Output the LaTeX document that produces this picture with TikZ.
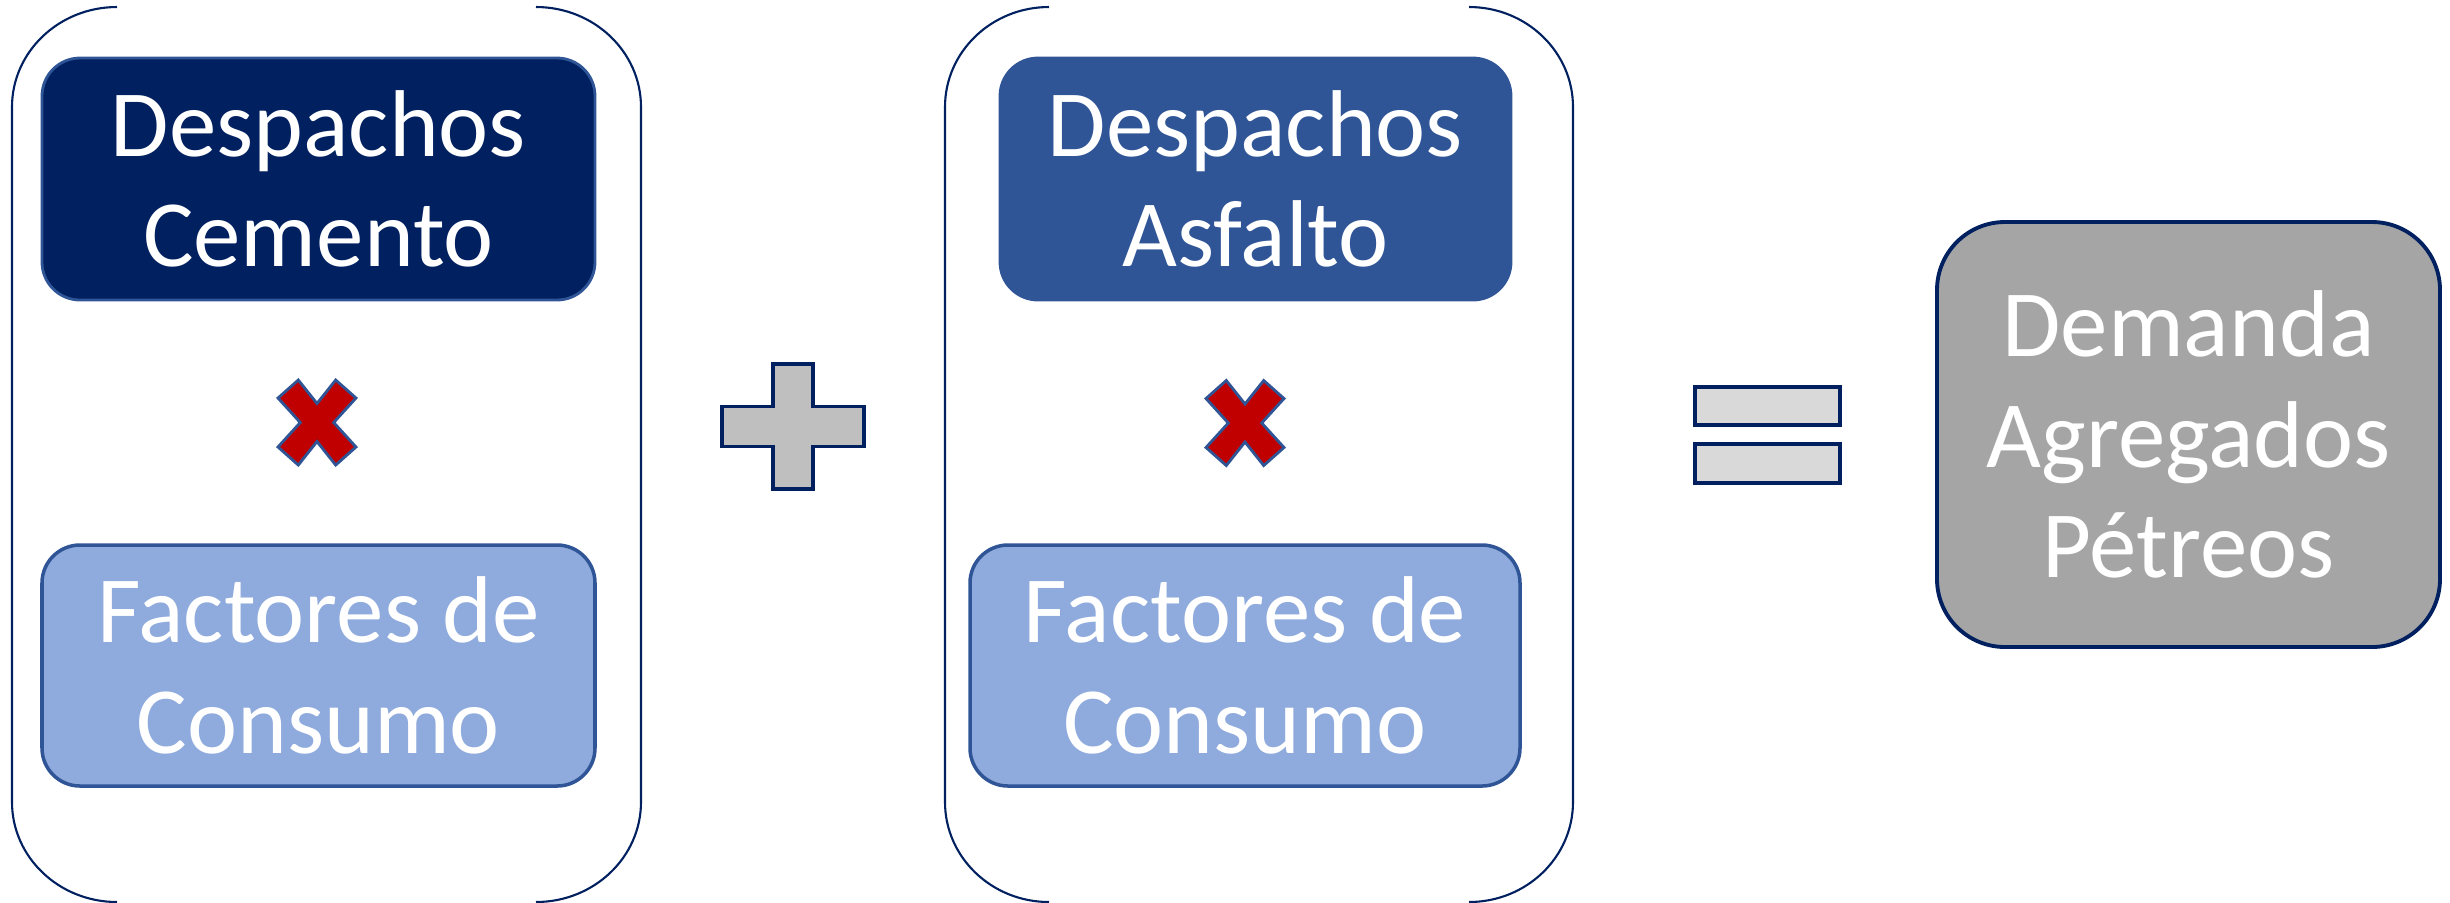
\documentclass[tikz,border=0pt]{standalone}
\usepackage{fontspec}
\setmainfont{Carlito}
\definecolor{navy}{HTML}{002060}
\definecolor{midblue}{HTML}{2F5597}
\definecolor{lightblue}{HTML}{8FAADC}
\definecolor{xred}{HTML}{C00000}
\definecolor{plusgray}{HTML}{BFBFBF}
\definecolor{eqgray}{HTML}{D9D9D9}
\definecolor{demgray}{HTML}{A5A5A5}
\tikzset{
  box/.style={rounded corners=0.38cm, draw=midblue, line width=0.8pt, text=white,
    align=center, inner sep=0pt, font=\fontsize{27}{31.5}\selectfont},
  bracket/.style={draw=navy, line width=0.6pt},
  timessign/.style={fill=xred, draw=midblue, line width=0.8pt, line join=miter},
  opsign/.style={draw=navy, line width=1pt, line join=miter},
}
\begin{document}
\begin{tikzpicture}
\useasboundingbox (0,0) rectangle (24.5,-9.02);

% container brackets
\draw[bracket] (1.17,-0.07) arc[start angle=90, end angle=180, x radius=1.05, y radius=1.0]
  -- (0.12,-8.02) arc[start angle=180, end angle=270, x radius=1.05, y radius=1.0];
\draw[bracket] (5.36,-0.07) arc[start angle=90, end angle=0, x radius=1.05, y radius=1.0]
  -- (6.41,-8.02) arc[start angle=0, end angle=-90, x radius=1.05, y radius=1.0];
\draw[bracket] (10.49,-0.07) arc[start angle=90, end angle=180, x radius=1.04, y radius=1.0]
  -- (9.45,-8.02) arc[start angle=180, end angle=270, x radius=1.04, y radius=1.0];
\draw[bracket] (14.69,-0.07) arc[start angle=90, end angle=0, x radius=1.04, y radius=1.0]
  -- (15.73,-8.02) arc[start angle=0, end angle=-90, x radius=1.04, y radius=1.0];

% boxes
\node[box, fill=navy, minimum width=5.53cm, minimum height=2.42cm] (cem) at (3.185,-1.79) {Despachos\\Cemento};
\node[box, fill=lightblue, line width=1pt, minimum width=5.53cm, minimum height=2.41cm] (fac1) at (3.185,-6.655) {Factores de\\Consumo};
\node[box, fill=midblue, minimum width=5.11cm, minimum height=2.42cm] (asf) at (12.555,-1.79) {Despachos\\Asfalto};
\node[box, fill=lightblue, line width=1pt, minimum width=5.50cm, minimum height=2.41cm] (fac2) at (12.45,-6.655) {Factores de\\Consumo};
\node[box, fill=demgray, draw=navy, line width=1.1pt, rounded corners=0.68cm, minimum width=5.03cm, minimum height=4.25cm] (dem) at (21.885,-4.345) {Demanda\\Agregados\\Pétreos};

% multiplication signs
\foreach \cx/\cy in {3.17/-4.225, 12.45/-4.23}{
  \draw[timessign, shift={(\cx,\cy)}]
    (-0.187,0.425) -- (0,0.19) -- (0.187,0.425) -- (0.39,0.245) -- (0.167,0)
    -- (0.39,-0.245) -- (0.187,-0.425) -- (0,-0.19) -- (-0.187,-0.425)
    -- (-0.39,-0.245) -- (-0.167,0) -- (-0.39,0.245) -- cycle;
}

% plus sign
\draw[opsign, fill=plusgray, shift={(7.93,-4.265)}]
  (-0.2,0.625) -- (0.2,0.625) -- (0.2,0.2) -- (0.71,0.2) -- (0.71,-0.2) -- (0.2,-0.2)
  -- (0.2,-0.625) -- (-0.2,-0.625) -- (-0.2,-0.2) -- (-0.71,-0.2) -- (-0.71,0.2)
  -- (-0.2,0.2) -- cycle;

% equal sign
\draw[opsign, fill=eqgray] (16.95,-3.87) rectangle (18.40,-4.25);
\draw[opsign, fill=eqgray] (16.95,-4.44) rectangle (18.40,-4.83);
\end{tikzpicture}
\end{document}
